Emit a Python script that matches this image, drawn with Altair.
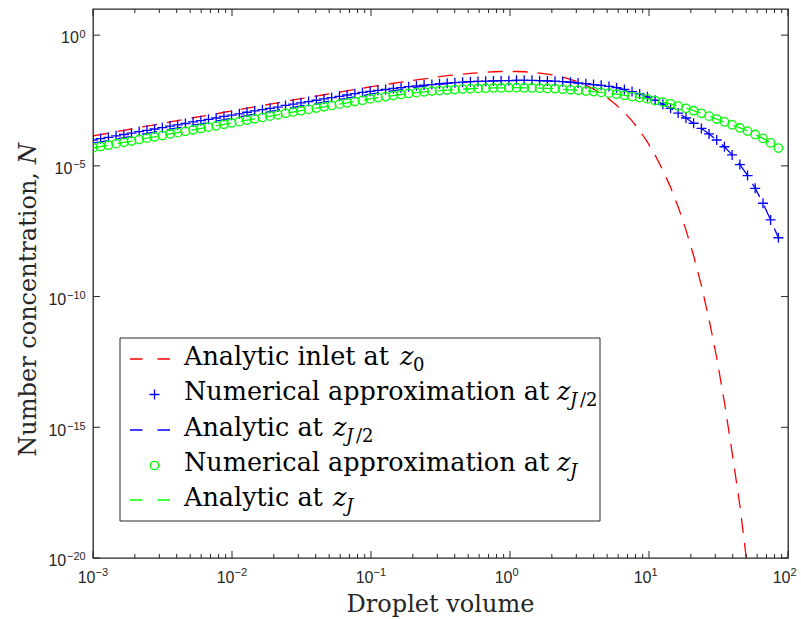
import altair as alt
import pandas as pd

# ---------------- data ----------------
# log10 of droplet volume for each grid point
log_volume = [-3.000, -2.945, -2.889, -2.834, -2.778, -2.723, -2.668, -2.612, -2.557, -2.501,
              -2.446, -2.391, -2.335, -2.280, -2.224, -2.169, -2.114, -2.058, -2.003, -1.947,
              -1.892, -1.837, -1.781, -1.726, -1.670, -1.615, -1.560, -1.504, -1.449, -1.393,
              -1.338, -1.283, -1.227, -1.172, -1.116, -1.061, -1.006, -0.950, -0.895, -0.839,
              -0.784, -0.729, -0.673, -0.618, -0.562, -0.507, -0.452, -0.396, -0.341, -0.285,
              -0.230, -0.175, -0.119, -0.064, -0.008, 0.047, 0.102, 0.158, 0.213, 0.269,
              0.324, 0.379, 0.435, 0.490, 0.546, 0.601, 0.656, 0.712, 0.767, 0.823,
              0.878, 0.933, 0.989, 1.044, 1.100, 1.155, 1.210, 1.266, 1.321, 1.377,
              1.432, 1.487, 1.543, 1.598, 1.654, 1.709, 1.764, 1.820, 1.875, 1.931]

# log10 of number concentration
log_inlet = [-3.85, -3.80, -3.75, -3.69, -3.64, -3.59, -3.53, -3.48, -3.43, -3.38,
             -3.32, -3.27, -3.22, -3.16, -3.11, -3.06, -3.01, -2.95, -2.90, -2.85,
             -2.79, -2.74, -2.69, -2.64, -2.59, -2.53, -2.48, -2.43, -2.38, -2.33,
             -2.28, -2.23, -2.18, -2.13, -2.08, -2.03, -1.98, -1.93, -1.89, -1.84,
             -1.80, -1.75, -1.71, -1.67, -1.63, -1.59, -1.55, -1.52, -1.49, -1.46,
             -1.44, -1.42, -1.40, -1.39, -1.39, -1.39, -1.40, -1.42, -1.45, -1.49,
             -1.54, -1.61, -1.69, -1.79, -1.92, -2.06, -2.23, -2.44, -2.68, -2.96,
             -3.28, -3.65, -4.09, -4.59, -5.17, -5.82, -6.57, -7.45, -8.44, -9.58,
             -10.88, -12.34, -14.05, -15.97, -18.00, -20.40, -23.30]

log_half = [-4.13, -4.08, -4.03, -3.97, -3.92, -3.87, -3.81, -3.76, -3.71, -3.66,
            -3.60, -3.55, -3.50, -3.44, -3.39, -3.34, -3.29, -3.23, -3.18, -3.13,
            -3.07, -3.02, -2.97, -2.92, -2.87, -2.81, -2.76, -2.71, -2.66, -2.61,
            -2.56, -2.51, -2.46, -2.41, -2.36, -2.31, -2.26, -2.21, -2.17, -2.12,
            -2.08, -2.03, -1.99, -1.95, -1.92, -1.88, -1.85, -1.82, -1.80, -1.78,
            -1.77, -1.76, -1.75, -1.74, -1.74, -1.73, -1.73, -1.73, -1.74, -1.75,
            -1.76, -1.78, -1.80, -1.83, -1.86, -1.89, -1.92, -1.96, -2.01, -2.08,
            -2.16, -2.25, -2.36, -2.49, -2.64, -2.80, -2.98, -3.17, -3.37, -3.57,
            -3.78, -4.01, -4.27, -4.58, -4.95, -5.37, -5.86, -6.43, -7.07, -7.75]

log_half_num = [-4.01, -3.96, -3.91, -3.85, -3.80, -3.75, -3.69, -3.64, -3.59, -3.54,
                -3.48, -3.43, -3.38, -3.32, -3.27, -3.22, -3.17, -3.11, -3.06, -3.01,
                -2.95, -2.90, -2.85, -2.80, -2.75, -2.69, -2.64, -2.59, -2.54, -2.49,
                -2.44, -2.39, -2.34, -2.29, -2.24, -2.19, -2.15, -2.11, -2.08, -2.04,
                -2.01, -1.97, -1.94, -1.91, -1.89, -1.86, -1.84, -1.82, -1.80, -1.78,
                -1.77, -1.76, -1.75, -1.74, -1.74, -1.73, -1.73, -1.73, -1.74, -1.75,
                -1.76, -1.78, -1.80, -1.83, -1.86, -1.89, -1.92, -1.96, -2.01, -2.08,
                -2.16, -2.25, -2.36, -2.49, -2.64, -2.80, -2.98, -3.17, -3.37, -3.57,
                -3.78, -4.01, -4.27, -4.58, -4.95, -5.37, -5.86, -6.43, -7.07, -7.75]

log_end = [-4.31, -4.26, -4.21, -4.15, -4.10, -4.05, -3.99, -3.94, -3.89, -3.84,
           -3.78, -3.73, -3.68, -3.62, -3.57, -3.52, -3.47, -3.41, -3.36, -3.31,
           -3.25, -3.20, -3.15, -3.10, -3.05, -2.99, -2.94, -2.89, -2.84, -2.79,
           -2.74, -2.69, -2.64, -2.59, -2.54, -2.49, -2.44, -2.39, -2.35, -2.31,
           -2.27, -2.23, -2.20, -2.17, -2.14, -2.12, -2.10, -2.08, -2.06, -2.05,
           -2.04, -2.03, -2.02, -2.02, -2.01, -2.01, -2.02, -2.02, -2.03, -2.04,
           -2.05, -2.07, -2.09, -2.11, -2.14, -2.16, -2.19, -2.22, -2.26, -2.30,
           -2.35, -2.39, -2.44, -2.50, -2.56, -2.63, -2.71, -2.80, -2.89, -2.99,
           -3.10, -3.21, -3.32, -3.43, -3.55, -3.67, -3.80, -3.95, -4.12, -4.32]

log_end_num = [-4.31, -4.26, -4.21, -4.15, -4.10, -4.05, -3.99, -3.94, -3.89, -3.84,
               -3.78, -3.73, -3.68, -3.62, -3.57, -3.52, -3.47, -3.41, -3.36, -3.31,
               -3.25, -3.20, -3.15, -3.10, -3.05, -2.99, -2.94, -2.89, -2.84, -2.79,
               -2.74, -2.69, -2.64, -2.59, -2.54, -2.49, -2.44, -2.39, -2.35, -2.31,
               -2.27, -2.23, -2.20, -2.17, -2.14, -2.12, -2.10, -2.08, -2.06, -2.05,
               -2.04, -2.03, -2.02, -2.02, -2.01, -2.01, -2.02, -2.02, -2.03, -2.04,
               -2.05, -2.07, -2.09, -2.11, -2.14, -2.16, -2.19, -2.22, -2.26, -2.30,
               -2.35, -2.39, -2.44, -2.50, -2.56, -2.63, -2.71, -2.80, -2.89, -2.99,
               -3.10, -3.21, -3.32, -3.43, -3.55, -3.67, -3.80, -3.95, -4.12, -4.32]

x_tick_values = [1e-3, 1e-2, 1e-1, 1e0, 1e1, 1e2]
x_tick_exponents = ["−3", "−2", "−1", "0", "1", "2"]
y_tick_values = [1e-20, 1e-15, 1e-10, 1e-5, 1e0]
y_tick_exponents = ["−20", "−15", "−10", "−5", "0"]
x_minor_values = [m * d for d in [1e-3, 1e-2, 1e-1, 1e0, 1e1] for m in range(2, 10)]

legend_main = ["Analytic inlet at", "Numerical approximation at", "Analytic at",
               "Numerical approximation at", "Analytic at"]
x_title = "Droplet volume"
y_title_main = "Number concentration,"
y_title_var = "N"

# ---------------- styling ----------------
W, H = 695, 549
AX = "#262626"
RED, BLUE, GREEN = "#FF0000", "#0000FF", "#00FF00"
PLUS = "M-1,0H1M0,-1V1"
DASH = [15, 10]
SERIF = "DejaVu Serif"
TICKFONT = "Liberation Sans"
BASE_SIZE, EXP_SIZE = 16, 11
MAJOR, MINOR = 7, 4


def frame(logy):
    n = len(logy)
    return pd.DataFrame({"v": [10 ** u for u in log_volume[:n]],
                         "N": [10 ** y for y in logy]})


x_scale = alt.Scale(type="log", domain=[1e-3, 1e2], nice=False)
y_scale = alt.Scale(type="log", domain=[1e-20, 1e1], nice=False)


def xenc():
    return alt.X("v:Q", scale=x_scale, axis=None)


def yenc():
    return alt.Y("N:Q", scale=y_scale, axis=None)


red_line = alt.Chart(frame(log_inlet)).mark_line(
    color=RED, strokeDash=DASH, strokeWidth=1.3, clip=True
).encode(x=xenc(), y=yenc())

blue_pts = alt.Chart(frame(log_half_num)).mark_point(
    shape=PLUS, size=100, filled=False, color=BLUE, strokeWidth=1.3, opacity=1, clip=True
).encode(x=xenc(), y=yenc())

blue_line = alt.Chart(frame(log_half)).mark_line(
    color=BLUE, strokeDash=DASH, strokeWidth=1.3, clip=True
).encode(x=xenc(), y=yenc())

green_pts = alt.Chart(frame(log_end_num)).mark_point(
    shape="circle", size=71, filled=False, color=GREEN, strokeWidth=1.3, opacity=1, clip=True
).encode(x=xenc(), y=yenc())

green_line = alt.Chart(frame(log_end)).mark_line(
    color=GREEN, strokeDash=DASH, strokeWidth=1.3, clip=True
).encode(x=xenc(), y=yenc())

layers = []

# ---------------- inward tick marks on all four sides ----------------
x_major_df = pd.DataFrame({"v": x_tick_values})
x_minor_df = pd.DataFrame({"v": x_minor_values})
y_major_df = pd.DataFrame({"N": y_tick_values})
for df, ln in [(x_major_df, MAJOR), (x_minor_df, MINOR)]:
    layers.append(alt.Chart(df).mark_rule(color=AX, strokeWidth=1).encode(
        x=xenc(), y=alt.value(H), y2=alt.value(H - ln)))
    layers.append(alt.Chart(df).mark_rule(color=AX, strokeWidth=1).encode(
        x=xenc(), y=alt.value(0), y2=alt.value(ln)))
layers.append(alt.Chart(y_major_df).mark_rule(color=AX, strokeWidth=1).encode(
    y=yenc(), x=alt.value(0), x2=alt.value(MAJOR)))
layers.append(alt.Chart(y_major_df).mark_rule(color=AX, strokeWidth=1).encode(
    y=yenc(), x=alt.value(W), x2=alt.value(W - MAJOR)))

# ---------------- tick labels 10^e with real superscripts ----------------
x_lab = pd.DataFrame({"v": x_tick_values, "e": x_tick_exponents})
layers.append(alt.Chart(x_lab).mark_text(
    align="right", baseline="alphabetic", font=TICKFONT, fontSize=BASE_SIZE, color=AX, dx=2.5,
    text="10"
).encode(x=xenc(), y=alt.value(H + 25.3)))
layers.append(alt.Chart(x_lab).mark_text(
    align="left", baseline="alphabetic", font=TICKFONT, fontSize=EXP_SIZE, color=AX, dx=2.5
).encode(x=xenc(), y=alt.value(H + 17.5), text="e:N"))

y_lab = pd.DataFrame({"N": y_tick_values, "e": y_tick_exponents})
layers.append(alt.Chart(y_lab).mark_text(
    align="right", baseline="alphabetic", font=TICKFONT, fontSize=EXP_SIZE, color=AX, dy=2.4
).encode(y=yenc(), x=alt.value(-7.3), text="e:N"))
for val, ex in zip(y_tick_values, y_tick_exponents):
    w = sum((0.584 if ch == "−" else 0.556) for ch in ex) * EXP_SIZE
    layers.append(alt.Chart(pd.DataFrame({"N": [val]})).mark_text(
        align="right", baseline="alphabetic", font=TICKFONT, fontSize=BASE_SIZE, color=AX,
        dy=8.3, text="10"
    ).encode(y=yenc(), x=alt.value(-7.3 - w - 0.8)))


def text(s, x, y, size, style="normal", align="left", angle=0, color="#000000"):
    kw = dict(align=align, baseline="alphabetic", font=SERIF, fontSize=size,
              fontStyle=style, color=color)
    if angle:
        kw["angle"] = angle
    return alt.Chart(pd.DataFrame({"t": [s]})).mark_text(**kw).encode(
        x=alt.value(x), y=alt.value(y), text="t:N")


# ---------------- legend (drawn inside the plot) ----------------
box = alt.Chart(pd.DataFrame({"a": [0]})).mark_rect(
    fill="white", stroke=AX, strokeWidth=1
).encode(x=alt.value(27), x2=alt.value(507), y=alt.value(329), y2=alt.value(512))
layers.append(box)

row_y = [350, 385.5, 421, 456.5, 491]
z_x = [307, 464, 240, 464, 240]
sym = [("dash", RED), ("plus", BLUE), ("dash", BLUE), ("circle", GREEN), ("dash", GREEN)]
subs = [[("0", "normal")], [("J", "italic"), ("/2", "normal")], [("J", "italic"), ("/2", "normal")],
        [("J", "italic")], [("J", "italic")]]
for i in range(5):
    cy = row_y[i]
    kind, col = sym[i]
    if kind == "dash":
        layers.append(alt.Chart(pd.DataFrame({"a": [0]})).mark_rule(
            color=col, strokeDash=[12.5, 15], strokeWidth=1.3
        ).encode(x=alt.value(37), x2=alt.value(77), y=alt.value(cy)))
    else:
        shape = PLUS if kind == "plus" else "circle"
        size = 100 if kind == "plus" else 71
        layers.append(alt.Chart(pd.DataFrame({"a": [0]})).mark_point(
            shape=shape, size=size, filled=False, color=col, strokeWidth=1.3, opacity=1
        ).encode(x=alt.value(61.5), y=alt.value(cy)))
    base = cy + 5.5
    layers.append(text(legend_main[i], 91, base, 25.5))
    layers.append(text("z", z_x[i], base, 25.5, style="italic"))
    sx = z_x[i] + 13
    for s, st in subs[i]:
        layers.append(text(s, sx, base + 6, 18, style=st))
        sx += 10

# ---------------- axis titles ----------------
layers.append(text(x_title, W / 2, H + 54, 24, align="center", color=AX))
layers.append(text(y_title_main, -57, 163, 24, align="right", angle=270, color=AX))
layers.append(text(y_title_var, -57, 155, 24, style="italic", align="left", angle=270, color=AX))

chart = alt.layer(red_line, blue_pts, blue_line, green_pts, green_line, *layers).properties(
    width=W, height=H,
    padding={"left": 93, "top": 9, "right": 13, "bottom": 61},
    autosize=alt.AutoSizeParams(type="none"),
    background="white",
).configure_view(stroke=AX, strokeWidth=1.3)

chart.save("out.html", embed_options={"renderer": "svg", "actions": False})
